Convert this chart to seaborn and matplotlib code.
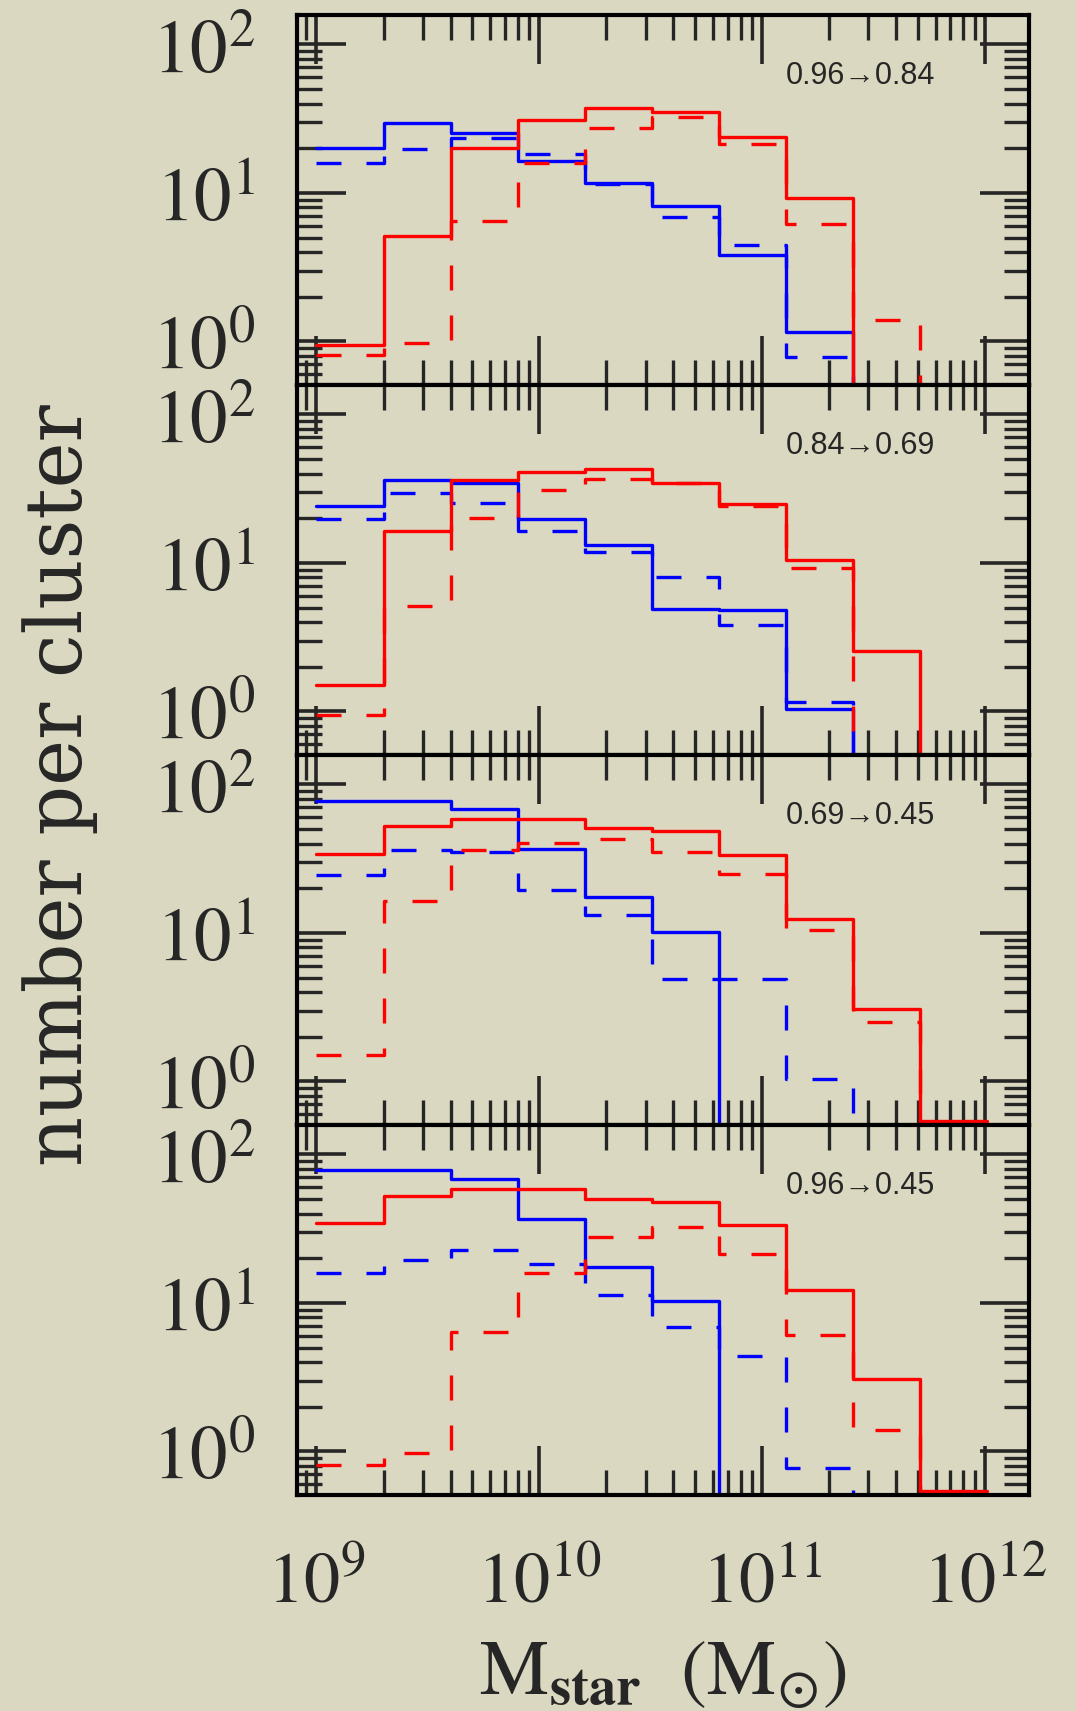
import numpy as np
import pandas as pd
import seaborn as sns
import matplotlib.pyplot as plt
from matplotlib.ticker import LogLocator, FixedLocator, FuncFormatter, NullFormatter

# stellar mass bins (factor of 2)
mass_edges = [1.0e9, 2.0e9, 4.0e9, 8.0e9, 1.6e10, 3.2e10, 6.4e10, 1.28e11, 2.56e11, 5.12e11, 1.024e12]
mass_centers = [1.414e9, 2.83e9, 5.66e9, 1.13e10, 2.26e10, 4.53e10, 9.05e10, 1.81e11, 3.62e11, 7.24e11]

panel_labels = ['0.96\u21920.84', '0.84\u21920.69', '0.69\u21920.45', '0.96\u21920.45']

# panel 1
p1_blue_solid = [20.0, 29.7, 25.5, 16.4, 11.7, 8.2, 3.8, 1.16, 0, 0]
p1_blue_dash = [16.0, 19.7, 23.3, 18.2, 11.4, 6.9, 4.45, 0.78, 0, 0]
p1_red_solid = [0.94, 5.1, 20.2, 31.0, 37.1, 35.3, 23.8, 9.3, 0, 0]
p1_red_dash = [0.81, 0.97, 6.5, 16.0, 27.5, 32.4, 21.5, 6.15, 1.39, 0]
# panel 2
p2_blue_solid = [24.2, 36.1, 34.8, 19.7, 13.3, 4.9, 4.85, 1.04, 0, 0]
p2_blue_dash = [19.9, 29.5, 25.5, 16.5, 11.9, 8.1, 3.8, 1.16, 0, 0]
p2_red_solid = [1.51, 16.3, 36.1, 41.0, 43.2, 34.8, 24.8, 10.4, 2.54, 0]
p2_red_dash = [0.94, 5.1, 20.0, 30.8, 36.6, 34.5, 24.2, 9.2, 0, 0]
# panel 3
p3_blue_solid = [78.0, 78.0, 68.5, 37.0, 17.4, 10.2, 0, 0, 0, 0]
p3_blue_dash = [24.4, 36.0, 34.9, 19.5, 13.2, 4.86, 4.86, 1.03, 0, 0]
p3_red_solid = [34.0, 52.9, 58.6, 58.6, 50.9, 48.4, 33.7, 12.4, 3.06, 0.54]
p3_red_dash = [1.50, 16.4, 36.4, 40.4, 43.0, 35.1, 25.1, 10.4, 2.52, 0]
# panel 4
p4_blue_solid = [78.3, 78.3, 68.5, 37.0, 17.5, 10.3, 0, 0, 0, 0]
p4_blue_dash = [15.9, 19.6, 22.9, 18.3, 11.3, 6.9, 4.4, 0.77, 0, 0]
p4_red_solid = [34.3, 52.3, 58.1, 58.1, 50.5, 47.8, 33.7, 12.3, 3.08, 0.54]
p4_red_dash = [0.81, 0.97, 6.4, 15.9, 27.7, 32.4, 21.5, 6.05, 1.39, 0]

panels = [
    (p1_blue_solid, p1_blue_dash, p1_red_solid, p1_red_dash),
    (p2_blue_solid, p2_blue_dash, p2_red_solid, p2_red_dash),
    (p3_blue_solid, p3_blue_dash, p3_red_solid, p3_red_dash),
    (p4_blue_solid, p4_blue_dash, p4_red_solid, p4_red_dash),
]

bg = '#dad8c0'
sns.set_style('ticks')
plt.rcParams['mathtext.fontset'] = 'stix'
plt.rcParams['axes.linewidth'] = 3.0

fig, axes = plt.subplots(4, 1, figsize=(10.76, 17.11), dpi=100, sharex=True)
fig.patch.set_facecolor(bg)
fig.subplots_adjust(left=0.276, right=0.956, top=0.991, bottom=0.126, hspace=0)

# seaborn bins in log10 space on a log axis
log_bins = [float(b) for b in np.log10(mass_edges)]

for ax, series, label in zip(axes, panels, panel_labels):
    ax.set_facecolor(bg)
    ax.set_xscale('log')
    ax.set_yscale('log')
    styles = [('#0000ff', False), ('#0000ff', True), ('#ff0000', False), ('#ff0000', True)]
    for vals, (c, dashed) in zip(series, styles):
        df = pd.DataFrame({'mass': mass_centers, 'n': vals})
        sns.histplot(data=df, x='mass', weights='n', bins=log_bins, element='step',
                     fill=False, color=c, linewidth=2.4, ax=ax)
        if dashed:
            ax.lines[-1].set_dashes([7.5, 7.5])

    ax.set_xlim(8.18e8, 1.57e12)
    ax.set_ylim(0.505, 157)
    ax.set_ylabel('')
    ax.set_xlabel('')

    ax.xaxis.set_major_locator(FixedLocator([1e9, 1e10, 1e11, 1e12]))
    ax.xaxis.set_minor_locator(LogLocator(base=10, subs=np.arange(2, 10), numticks=50))
    ax.xaxis.set_minor_formatter(NullFormatter())
    ax.yaxis.set_major_locator(FixedLocator([1, 10, 100]))
    ax.yaxis.set_minor_locator(LogLocator(base=10, subs=np.arange(2, 10), numticks=50))
    ax.yaxis.set_minor_formatter(NullFormatter())
    fmt = FuncFormatter(lambda v, p: r'$10^{%d}$' % int(round(np.log10(v))))
    ax.xaxis.set_major_formatter(fmt)
    ax.yaxis.set_major_formatter(fmt)

    ax.tick_params(which='major', direction='in', length=35, width=2.6, top=True, right=True)
    ax.tick_params(which='minor', direction='in', length=18, width=2.4, top=True, right=True)
    ax.tick_params(axis='y', which='major', labelsize=54, pad=30)
    ax.tick_params(axis='x', which='major', labelsize=52, pad=38)
    for s in ax.spines.values():
        s.set_linewidth(3.0)
        s.set_color('black')

    ax.text(0.668, 0.835, label, transform=ax.transAxes, ha='left', va='center',
            fontsize=22, family=['Liberation Sans', 'DejaVu Sans'])

axes[-1].set_xlabel(r'$\mathrm{M}_{\mathbf{star}}\ \ (\mathrm{M}_{\odot})$', fontsize=56, labelpad=12)
fig.text(0.056, 0.541, 'number per cluster', rotation=90, ha='center', va='center',
         fontsize=56, family='DejaVu Serif')

fig.savefig('out.png', dpi=100, facecolor=bg)
